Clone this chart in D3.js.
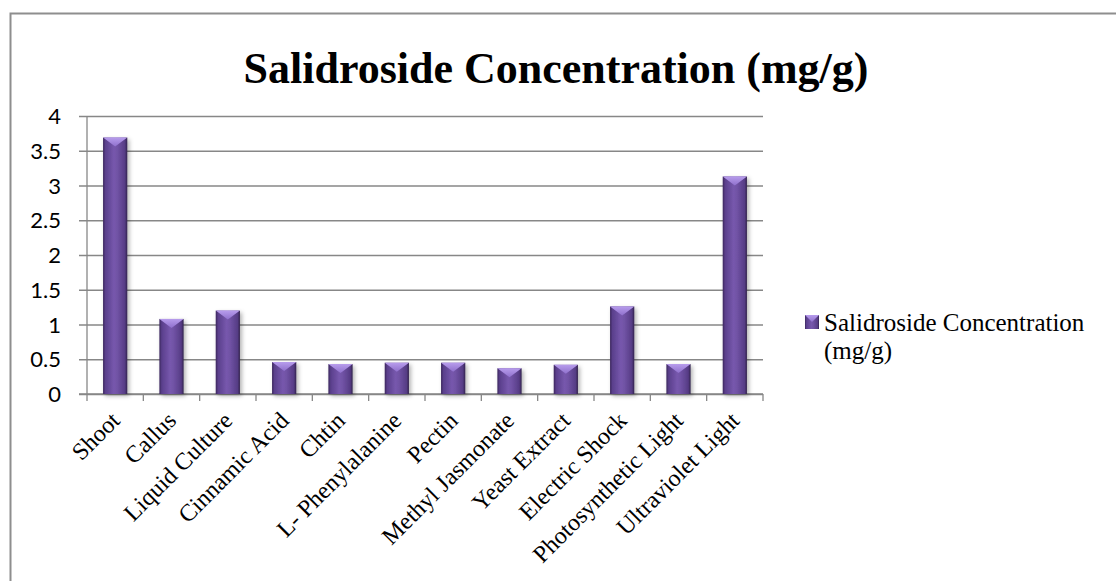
<!DOCTYPE html>
<html>
<head>
<meta charset="utf-8">
<script src="https://cdn.jsdelivr.net/npm/d3@7"></script>
<style>
  html, body { margin: 0; padding: 0; background: #ffffff; }
  svg { display: block; }
</style>
</head>
<body>
<svg id="chart" width="1116" height="581"></svg>
<script>
// Salidroside content per treatment (mg/g)
const categories = [
  "Shoot", "Callus", "Liquid Culture", "Cinnamic Acid", "Chtin",
  "L- Phenylalanine", "Pectin", "Methyl Jasmonate", "Yeast Extract",
  "Electric Shock", "Photosynthetic Light", "Ultraviolet Light"
];
const values = [3.69, 1.08, 1.20, 0.46, 0.43, 0.45, 0.45, 0.37, 0.42, 1.26, 0.43, 3.13];
const yTicks = [0, 0.5, 1, 1.5, 2, 2.5, 3, 3.5, 4];
const seriesName = "Salidroside Concentration (mg/g)";
const legendLines = ["Salidroside Concentration", "(mg/g)"];

const svg = d3.select("#chart");
const W = 1116, H = 581;

// plot area
const plot = { left: 87, right: 763, top: 116, bottom: 394 };

const x = d3.scaleBand()
  .domain(categories)
  .range([plot.left, plot.right])
  .paddingInner(0.57)
  .paddingOuter(0.285);

const y = d3.scaleLinear()
  .domain([0, 4])
  .range([plot.bottom, plot.top]);

// gradients for the bevelled columns
const defs = svg.append("defs");
const body = defs.append("linearGradient").attr("id", "barBody")
  .attr("x1", "0%").attr("x2", "100%").attr("y1", "0%").attr("y2", "0%");
[["0%", "#3b275c"], ["10%", "#5a3f8c"], ["45%", "#7758ad"], ["60%", "#7052a4"],
 ["90%", "#563c85"], ["100%", "#32214c"]]
  .forEach(([o, c]) => body.append("stop").attr("offset", o).attr("stop-color", c));

const cap = defs.append("linearGradient").attr("id", "barCap")
  .attr("x1", "0%").attr("x2", "0%").attr("y1", "0%").attr("y2", "100%");
[["0%", "#b79cec"], ["100%", "#8f70cc"]]
  .forEach(([o, c]) => cap.append("stop").attr("offset", o).attr("stop-color", c));

const shadow = defs.append("filter").attr("id", "shadow")
  .attr("x", "-30%").attr("y", "-10%").attr("width", "170%").attr("height", "130%");
shadow.append("feDropShadow")
  .attr("dx", 2).attr("dy", 2).attr("stdDeviation", 2)
  .attr("flood-color", "#000").attr("flood-opacity", 0.3);

// outer chart frame
svg.append("rect")
  .attr("x", 10.5).attr("y", 13.5)
  .attr("width", W + 20).attr("height", H + 20)
  .attr("fill", "none").attr("stroke", "#8e8e8e").attr("stroke-width", 2);

// title
svg.append("text")
  .attr("x", 556).attr("y", 83)
  .attr("text-anchor", "middle")
  .attr("font-family", "'Liberation Serif', 'Times New Roman', serif")
  .attr("font-weight", "bold")
  .attr("font-size", 44)
  .attr("fill", "#000")
  .text(seriesName);

// horizontal gridlines + y axis
const yAxis = d3.axisLeft(y)
  .tickValues(yTicks)
  .tickSize(-(plot.right - plot.left))
  .tickSizeOuter(0)
  .tickPadding(0)
  .tickFormat(d3.format("~g"));

const gy = svg.append("g")
  .attr("transform", `translate(${plot.left},0)`)
  .call(yAxis);
gy.select(".domain").remove();
gy.selectAll(".tick line")
  .attr("x1", -8)
  .attr("stroke", "#878787").attr("stroke-width", 1.3);
gy.selectAll(".tick text")
  .attr("x", -26)
  .attr("dy", "0.35em")
  .attr("font-family", "Lato, 'Open Sans', sans-serif")
  .attr("font-size", 22)
  .attr("fill", "#000");

// vertical axis line
svg.append("line")
  .attr("x1", plot.left).attr("x2", plot.left)
  .attr("y1", plot.top).attr("y2", plot.bottom)
  .attr("stroke", "#878787").attr("stroke-width", 1.3);

// x axis with ticks between categories
const step = x.step();
const boundaries = d3.range(categories.length + 1).map(i => plot.left + i * step);
svg.append("line")
  .attr("x1", plot.left - 8).attr("x2", plot.right)
  .attr("y1", plot.bottom).attr("y2", plot.bottom)
  .attr("stroke", "#878787").attr("stroke-width", 1.3);
svg.append("g").selectAll("line")
  .data(boundaries).join("line")
  .attr("x1", d => d).attr("x2", d => d)
  .attr("y1", plot.bottom).attr("y2", plot.bottom + 7)
  .attr("stroke", "#878787").attr("stroke-width", 1.3);

// columns
const bars = svg.append("g").selectAll("g")
  .data(categories.map((c, i) => ({ c, v: values[i] })))
  .join("g");

bars.append("rect")
  .attr("x", d => x(d.c))
  .attr("y", d => y(d.v))
  .attr("width", x.bandwidth())
  .attr("height", d => y(0) - y(d.v))
  .attr("fill", "url(#barBody)")
  .attr("filter", "url(#shadow)");

bars.append("path")
  .attr("d", d => {
    const x0 = x(d.c), x1 = x0 + x.bandwidth(), t = y(d.v);
    const cx = (x0 + x1) / 2;
    return `M${x0},${t}L${x1},${t}L${cx},${t + 9}Z`;
  })
  .attr("fill", "url(#barCap)");

// category labels, slanted
svg.append("g").selectAll("text")
  .data(categories).join("text")
  .attr("transform", d => `translate(${x(d) + x.bandwidth() / 2 + 6},${plot.bottom + 28}) rotate(-45)`)
  .attr("text-anchor", "end")
  .attr("font-family", "'Liberation Serif', 'Times New Roman', serif")
  .attr("font-size", 24)
  .attr("fill", "#000")
  .text(d => d);

// legend
const lg = svg.append("g");
lg.append("rect")
  .attr("x", 805).attr("y", 315).attr("width", 14).attr("height", 14)
  .attr("fill", "url(#barBody)");
lg.append("path")
  .attr("d", "M805,315L819,315L812,322Z")
  .attr("fill", "url(#barCap)");
lg.selectAll("text.legend")
  .data(legendLines).join("text")
  .attr("class", "legend")
  .attr("x", 824)
  .attr("y", (d, i) => 331 + i * 28)
  .attr("font-family", "'Liberation Serif', 'Times New Roman', serif")
  .attr("font-size", 25)
  .attr("fill", "#000")
  .text(d => d);
</script>
</body>
</html>
